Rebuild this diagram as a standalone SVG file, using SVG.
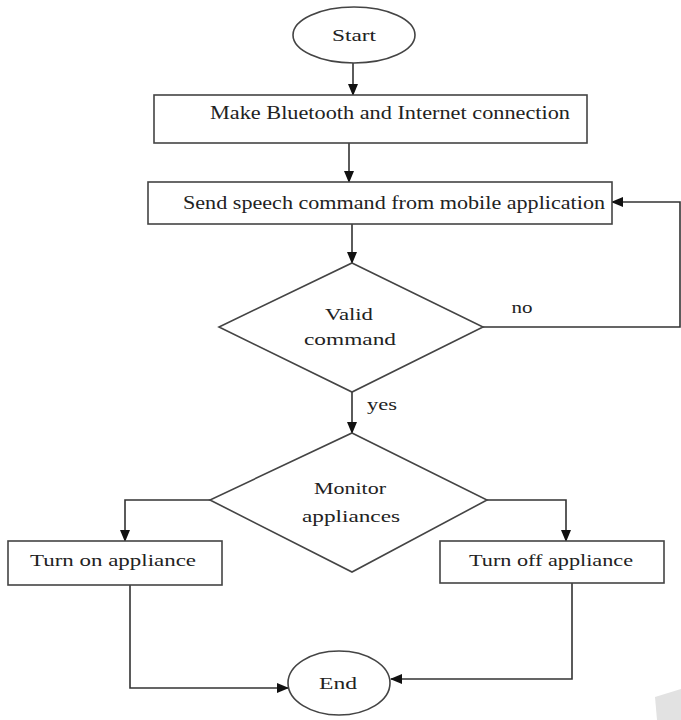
<svg xmlns="http://www.w3.org/2000/svg" width="681" height="720" viewBox="0 0 681 720">
<style>
.n{fill:#fff;stroke:#444;stroke-width:1.6}
.c{fill:none;stroke:#333;stroke-width:1.6}
text{font-family:"Liberation Serif","Times New Roman",serif;font-size:17px;fill:#222;text-anchor:middle}
.b{font-size:18px}
</style>
<defs>
<marker id="ah" markerUnits="userSpaceOnUse" markerWidth="12" markerHeight="10" refX="11" refY="5" orient="auto">
<path d="M0,0 L12,5 L0,10 Z" fill="#111"/>
</marker>
</defs>
<rect width="681" height="720" fill="#fff"/>
<g id="connectors">
<path class="c" d="M353,63 V95" marker-end="url(#ah)"/>
<path class="c" d="M349,143 V182" marker-end="url(#ah)"/>
<path class="c" d="M352,224 V263" marker-end="url(#ah)"/>
<path class="c" d="M483,327 H680 V202 H612" marker-end="url(#ah)"/>
<path class="c" d="M352,392 V433" marker-end="url(#ah)"/>
<path class="c" d="M210,500 H125 V541" marker-end="url(#ah)"/>
<path class="c" d="M487,500 H566 V541" marker-end="url(#ah)"/>
<path class="c" d="M130,585 V688 H288" marker-end="url(#ah)"/>
<path class="c" d="M572,583 V679 H391" marker-end="url(#ah)"/>
<text x="522" y="313" textLength="21" lengthAdjust="spacingAndGlyphs">no</text>
<text x="382" y="410" textLength="30" lengthAdjust="spacingAndGlyphs">yes</text>
</g>
<g id="start">
<ellipse class="n" cx="354" cy="35" rx="61" ry="28"/>
<text x="354" y="41" textLength="44" lengthAdjust="spacingAndGlyphs">Start</text>
</g>
<g id="connect">
<rect class="n" x="154" y="95" width="433" height="48"/>
<text class="b" x="390" y="119" textLength="360" lengthAdjust="spacingAndGlyphs">Make Bluetooth and Internet connection</text>
</g>
<g id="send">
<rect class="n" x="148" y="182" width="464" height="42"/>
<text class="b" x="394" y="209" textLength="422" lengthAdjust="spacingAndGlyphs">Send speech command from mobile application</text>
</g>
<g id="valid">
<polygon class="n" points="352,263 483,327 352,392 219,327"/>
<text x="349" y="320" textLength="48" lengthAdjust="spacingAndGlyphs">Valid</text>
<text x="350" y="345" textLength="92" lengthAdjust="spacingAndGlyphs">command</text>
</g>
<g id="monitor">
<polygon class="n" points="352,433 487,500 352,572 210,500"/>
<text x="350" y="494" textLength="72" lengthAdjust="spacingAndGlyphs">Monitor</text>
<text x="351" y="522" textLength="98" lengthAdjust="spacingAndGlyphs">appliances</text>
</g>
<g id="turnon">
<rect class="n" x="8" y="541" width="214" height="44"/>
<text x="113" y="566" textLength="166" lengthAdjust="spacingAndGlyphs">Turn on appliance</text>
</g>
<g id="turnoff">
<rect class="n" x="440" y="541" width="224" height="42"/>
<text x="551" y="566" textLength="164" lengthAdjust="spacingAndGlyphs">Turn off appliance</text>
</g>
<g id="end">
<ellipse class="n" cx="339" cy="683" rx="51" ry="32"/>
<text x="338" y="689" textLength="38" lengthAdjust="spacingAndGlyphs">End</text>
</g>
<polygon points="655,697 681,689 681,720 657,720" fill="#e2e2e2"/>
</svg>
